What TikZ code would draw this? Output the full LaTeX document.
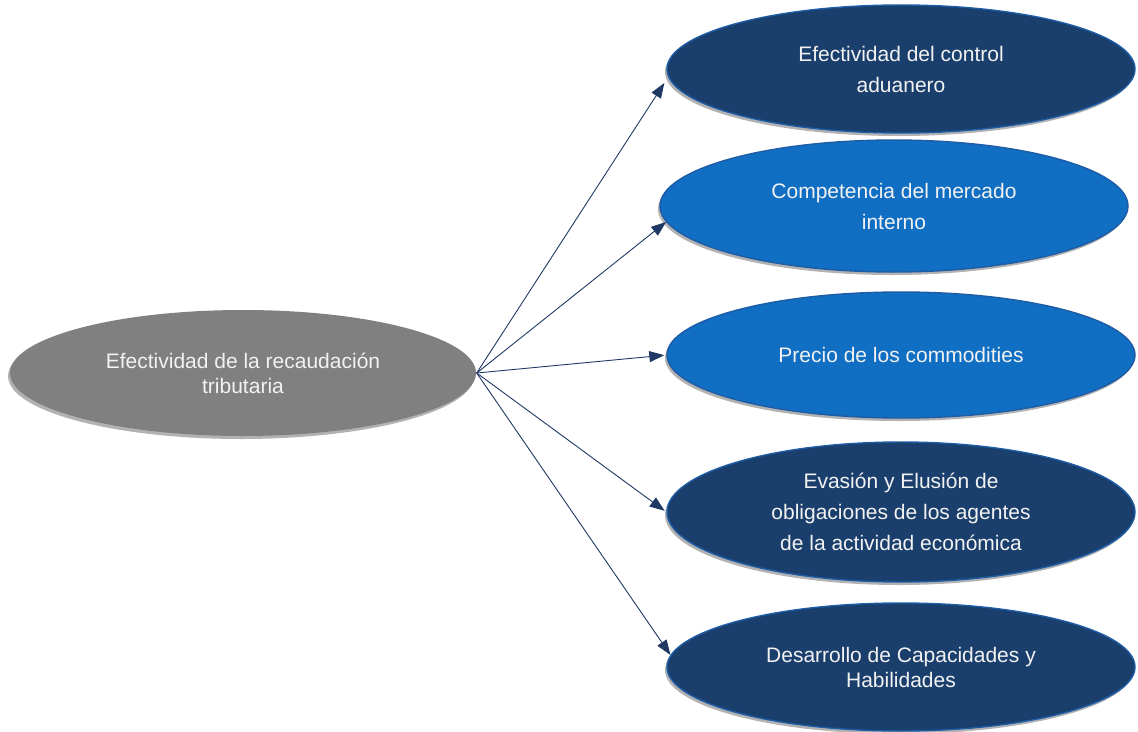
\documentclass[tikz,border=0pt]{standalone}
\usepackage{fontspec}
\setmainfont{Liberation Sans}
\usetikzlibrary{shapes.geometric,arrows.meta,shadows}
\definecolor{navy}{RGB}{27,63,108}
\definecolor{midblue}{RGB}{16,110,195}
\definecolor{rim}{RGB}{30,92,165}
\definecolor{arrowc}{RGB}{31,56,100}
\definecolor{grayfill}{RGB}{128,128,128}
\begin{document}
\begin{tikzpicture}[x=1pt,y=-1pt,
  oval/.style={ellipse, inner sep=0pt, minimum width=468pt, minimum height=128pt,
    draw=rim, line width=1.4pt, text=white!95!black, align=center,
    font=\fontsize{21}{31}\selectfont,
    drop shadow={shadow xshift=-2pt, shadow yshift=-3pt, opacity=0.3, fill=black}},
  tight/.style={font=\fontsize{21}{25}\selectfont},
  darkoval/.style={oval, fill=navy},
  lightoval/.style={oval, fill=midblue},
  link/.style={draw=arrowc, line width=0.9pt, -{Triangle[length=15pt,width=11pt]}}]
\useasboundingbox (0,0) rectangle (1138,731);
\node[oval, tight, draw=none, fill=grayfill, minimum width=466pt, minimum height=126pt] (g) at (243,373) {Efectividad de la recaudación\\tributaria};
\node[darkoval] (e1) at (901,69) {Efectividad del control\\aduanero};
\node[lightoval, minimum height=132pt] (e2) at (894,206) {Competencia del mercado\\interno};
\node[lightoval, minimum height=126pt] (e3) at (901,355) {Precio de los commodities};
\node[darkoval, minimum height=140pt] (e4) at (901,512) {Evasión y Elusión de\\obligaciones de los agentes\\de la actividad económica};
\node[darkoval, tight, minimum height=128pt] (e5) at (901,667) {Desarrollo de Capacidades y\\Habilidades};
\draw[link, shorten >=7pt] (g.east) -- (e1.182);
\draw[link] (g.east) -- (e2.184);
\draw[link, shorten >=2pt] (g.east) -- (e3.west);
\draw[link, shorten >=2pt] (g.east) -- (e4.west);
\draw[link] (g.east) -- (e5.177);
\end{tikzpicture}
\end{document}
